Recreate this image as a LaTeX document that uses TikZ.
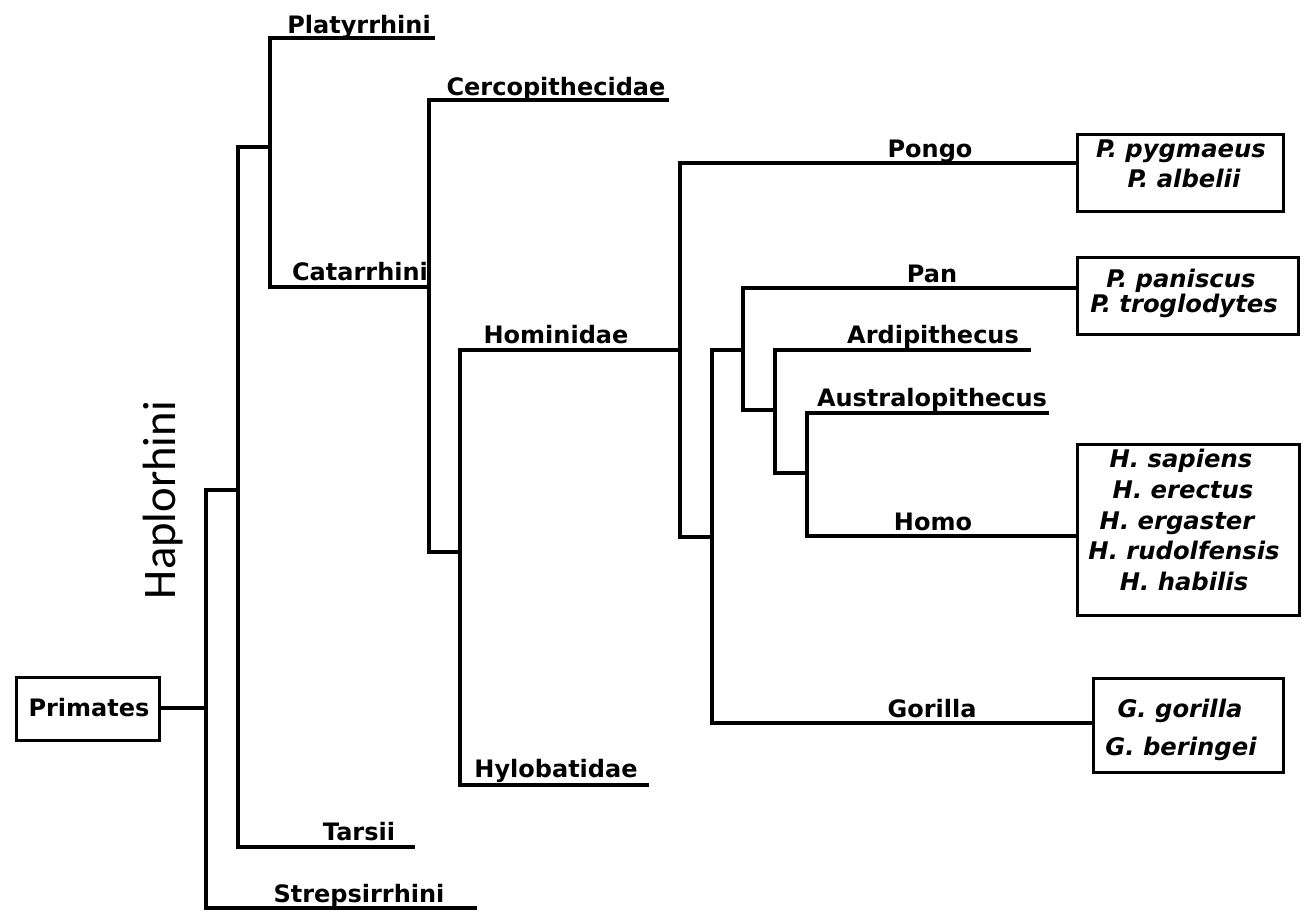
\documentclass[tikz,border=0pt]{standalone}
\usepackage{fontspec}
\newfontfamily\treefont{DejaVu Sans}
\newfontfamily\sidefont{Carlito}
\begin{document}
\begin{tikzpicture}[x=0.75pt,y=-0.75pt,
  branch/.style={line width=2.3pt,line join=miter,line cap=rect},
  taxon/.style={font=\treefont\bfseries\fontsize{18}{22}\selectfont,anchor=base,inner sep=0pt},
  species/.style={font=\treefont\bfseries\itshape\fontsize{18.2}{22}\selectfont,anchor=base,inner sep=0pt},
  sbox/.style={draw,line width=2.2pt,rectangle,inner sep=0pt,anchor=north west}]
\fill[white] (0,0) rectangle (1307,921);
\useasboundingbox (0,0) rectangle (1307,921);

% root box
\node[sbox,minimum width=143*0.75pt,minimum height=63*0.75pt] (primates) at (15,676) {};
\node[taxon] (primlbl) at (89,716) {Primates};

% species boxes
\node[sbox,minimum width=206*0.75pt,minimum height=77*0.75pt] (pongobox) at (1076,133) {};
\node[sbox,minimum width=221*0.75pt,minimum height=77*0.75pt] (panbox) at (1076,256) {};
\node[sbox,minimum width=222*0.75pt,minimum height=171*0.75pt] (homobox) at (1076,443) {};
\node[sbox,minimum width=190*0.75pt,minimum height=94*0.75pt] (gorbox) at (1092,677) {};

\node[species] (s1) at (1181,157) {P. pygmaeus};
\node[species] (s2) at (1184,187) {P. albelii};
\node[species] (s3) at (1181,287) {P. paniscus};
\node[species] (s4) at (1184,312) {P. troglodytes};
\node[species] (s5) at (1181,467) {H. sapiens};
\node[species] (s6) at (1183,498) {H. erectus};
\node[species] (s7) at (1177,529) {H. ergaster};
\node[species] (s8) at (1184,559) {H. rudolfensis};
\node[species] (s9) at (1184,590) {H. habilis};
\node[species] (s10) at (1180,717) {G. gorilla};
\node[species] (s11) at (1181,755) {G. beringei};

% branch points
\coordinate (jroot) at (206,708);
\coordinate (jhap) at (238,490);
\coordinate (janth) at (270,147);
\coordinate (jcat) at (429,287);
\coordinate (jhoid) at (460,552);
\coordinate (jhom) at (680,350);
\coordinate (jhnae) at (712,537);
\coordinate (jhini) at (743,350);
\coordinate (jh2) at (775,410);
\coordinate (jh3) at (807,473);

% branch tips
\coordinate (platend) at (433,38);
\coordinate (tarsend) at (413,847);
\coordinate (strepend) at (475,908);
\coordinate (cercend) at (667,100);
\coordinate (hyloend) at (647,785);
\coordinate (pongoend) at (pongobox.west |- 0,163);
\coordinate (panend) at (panbox.west |- 0,288);
\coordinate (ardend) at (1029,350);
\coordinate (ausend) at (1047,413);
\coordinate (homoend) at (homobox.west |- 0,536);
\coordinate (gorend) at (gorbox.west |- 0,723);

% tree
\draw[branch] (primates.east |- jroot) -- (jroot);
\draw[branch] (jhap) -| (jroot) |- (strepend);
\draw[branch] (janth) -| (jhap) |- (tarsend);
\draw[branch] (platend) -| (janth) |- (jcat);
\draw[branch] (cercend) -| (jcat) |- (jhoid);
\draw[branch] (jhom) -| (jhoid) |- (hyloend);
\draw[branch] (pongoend) -| (jhom) |- (jhnae);
\draw[branch] (jhini) -| (jhnae) |- (gorend);
\draw[branch] (panend) -| (jhini) |- (jh2);
\draw[branch] (ardend) -| (jh2) |- (jh3);
\draw[branch] (ausend) -| (jh3) |- (homoend);

% clade names
\node[taxon] (platy) at (359,33) {Platyrrhini};
\node[taxon] (catar) at (360,280) {Catarrhini};
\node[taxon] (tarsii) at (359,840) {Tarsii};
\node[taxon] (strep) at (359,902) {Strepsirrhini};
\node[taxon] (cerco) at (556,95) {Cercopithecidae};
\node[taxon] (homnd) at (556,343) {Hominidae};
\node[taxon] (hylo) at (556,777) {Hylobatidae};
\node[taxon] (pongo) at (930,157) {Pongo};
\node[taxon] (pan) at (932,282) {Pan};
\node[taxon] (ardi) at (933,343) {Ardipithecus};
\node[taxon] (austr) at (932,406) {Australopithecus};
\node[taxon] (homo) at (933,530) {Homo};
\node[taxon] (gor) at (932,717) {Gorilla};

\node[font=\sidefont\fontsize{35}{40}\selectfont,rotate=90,anchor=base,inner sep=0pt] (haplo) at (175,500) {Haplorhini};
\end{tikzpicture}
\end{document}
